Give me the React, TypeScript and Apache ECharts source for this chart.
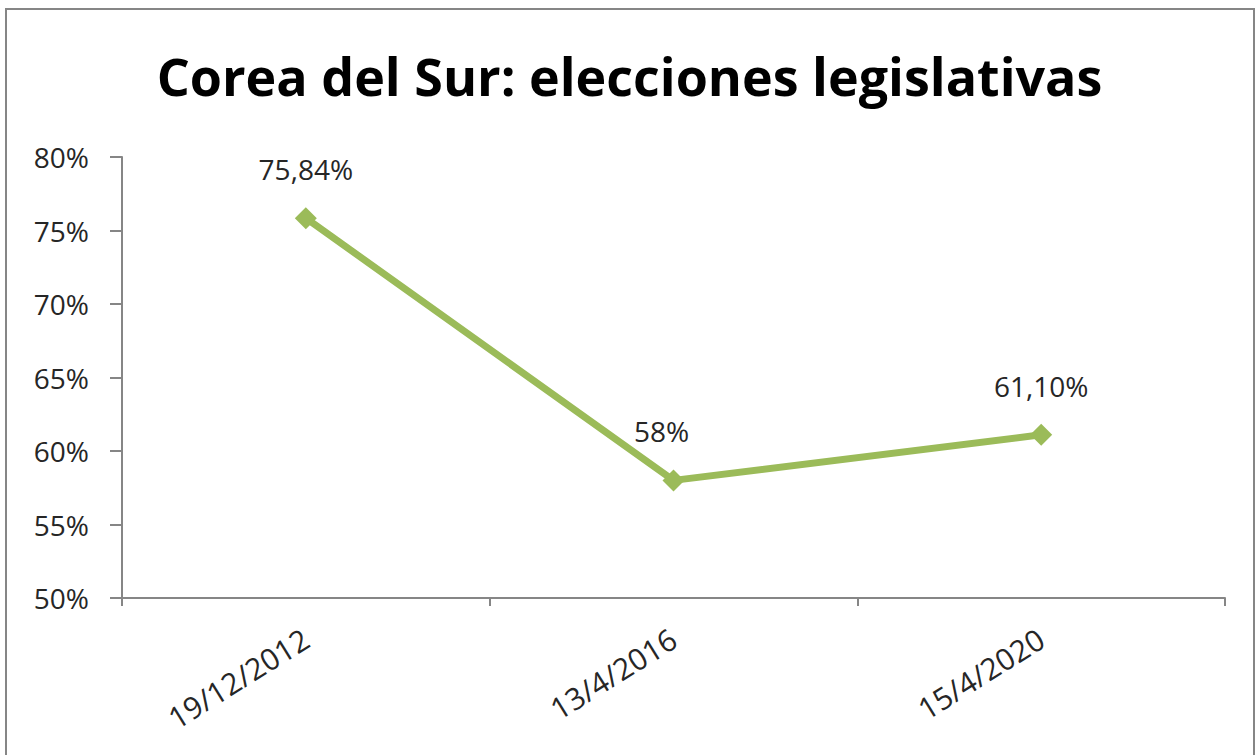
import React, { useEffect, useRef } from "react";
import * as echarts from "echarts";

const titleText = "Corea del Sur: elecciones legislativas";
const categories = ["19/12/2012", "13/4/2016", "15/4/2020"];
const turnout = [75.84, 58, 61.1];
const turnoutLabels = ["75,84%", "58%", "61,10%"];
const yMin = 50;
const yMax = 80;
const yStep = 5;

const FONT = "'Open Sans', 'Noto Sans', sans-serif";

export default function App() {
  const ref = useRef<HTMLDivElement>(null);
  useEffect(() => {
    if (!ref.current) return;
    const chart = echarts.init(ref.current, undefined, { renderer: "svg" });
    chart.setOption({
      animation: false,
      backgroundColor: "#ffffff",
      title: {
        text: titleText,
        left: "center",
        top: 44,
        textStyle: { fontFamily: FONT, fontSize: 52, fontWeight: "bold", color: "#000000" },
      },
      graphic: [
        {
          type: "rect",
          shape: { x: 6, y: 9, width: 1248, height: 760 },
          style: { fill: "none", stroke: "#868686", lineWidth: 2 },
          silent: true,
        },
      ],
      grid: { left: 122, right: 34, top: 157, bottom: 157 },
      xAxis: {
        type: "category",
        data: categories,
        boundaryGap: true,
        axisLine: { lineStyle: { color: "#868686", width: 2 } },
        axisTick: { show: true, length: 8, lineStyle: { color: "#868686", width: 2 } },
        axisLabel: { rotate: 32, margin: 38, fontFamily: FONT, fontSize: 30, color: "#262626" },
      },
      yAxis: {
        type: "value",
        min: yMin,
        max: yMax,
        interval: yStep,
        axisLine: { show: true, lineStyle: { color: "#868686", width: 2 } },
        axisTick: { show: true, length: 12, lineStyle: { color: "#868686", width: 2 } },
        splitLine: { show: false },
        axisLabel: { formatter: "{value}%", margin: 33, fontFamily: FONT, fontSize: 28, color: "#262626" },
      },
      series: [
        {
          type: "line",
          data: turnout.map((v, i) => (i === 1 ? { value: v, label: { offset: [-12, 0] } } : v)),
          symbol: "diamond",
          symbolSize: 22,
          lineStyle: { color: "#9BBB59", width: 7 },
          itemStyle: { color: "#9BBB59" },
          label: {
            show: true,
            position: "top",
            distance: 24,
            fontFamily: FONT,
            fontSize: 28,
            color: "#262626",
            formatter: (p: any) => turnoutLabels[p.dataIndex],
          },
        },
      ],
    });
    return () => chart.dispose();
  }, []);
  return <div ref={ref} style={{ position: "fixed", left: 0, top: 0, width: 1259, height: 755 }} />;
}
